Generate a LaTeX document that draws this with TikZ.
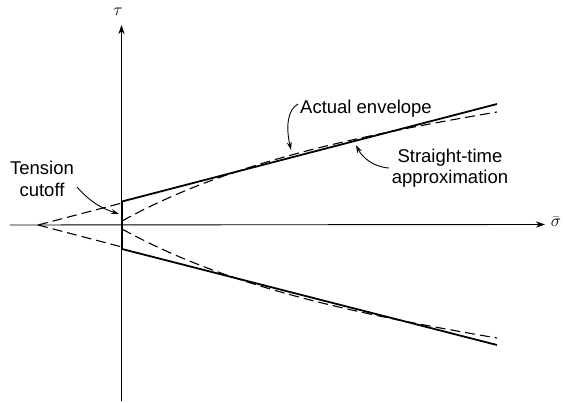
\documentclass[tikz,border=0pt]{standalone}
\usepackage{fontspec}
\setmainfont{Liberation Sans}
\usetikzlibrary{arrows.meta}
\begin{document}
\begin{tikzpicture}[x=1pt,y=-1pt,
  axis/.style={line width=0.9pt,-{Stealth[length=9pt,width=6pt]}},
  straightline/.style={line width=1.8pt,line join=miter},
  actual/.style={line width=1.1pt,dash pattern=on 10pt off 5pt},
  lbl/.style={font=\fontsize{18.5}{21.5}\selectfont,align=center,inner sep=0pt},
  mathlbl/.style={font=\fontsize{17}{17}\selectfont,inner sep=0pt},
  leader/.style={line width=0.9pt,-{Stealth[length=8pt,width=5pt]}}]
\useasboundingbox (0,0) rectangle (563,403);
% axes
\coordinate (xs) at (10,225);
\coordinate (xe) at (545,224.5);
\coordinate (ys) at (121.5,401);
\coordinate (ye) at (121.5,25);
\draw[axis] (xs) -- (xe);
\draw[axis] (ys) -- (ye);
\node[mathlbl] (tau) at (118,12) {$\tau$};
\node[mathlbl] (sig) at (556,222) {$\bar{\sigma}$};
% straight-line approximation (solid)
\coordinate (ue) at (497,104);
\coordinate (us) at (122,201.5);
\coordinate (ls) at (122,249);
\coordinate (le) at (497,345);
\draw[straightline] (ue) -- (us) -- (ls) -- (le);
% dashed extensions to the vertex
\coordinate (vx) at (38,225);
\coordinate (ut) at (122,203);
\coordinate (lt) at (122,247);
\draw[actual] (vx) -- (ut);
\draw[actual] (vx) -- (lt);
% actual (curved) envelope
\coordinate (ca) at (122,221);
\coordinate (cb) at (497,112);
\coordinate (cc) at (122,229);
\coordinate (cd) at (497,338);
\draw[actual] (ca) .. controls (222,166) and (340,138.7) .. (cb);
\draw[actual] (cc) .. controls (222,284) and (340,311.3) .. (cd);
% labels
\node[lbl] (tc) at (42,179) {Tension\\cutoff};
\node[lbl,anchor=base] (ae) at (366,114) {Actual envelope};
\node[lbl] (sa) at (450,168) {Straight-time\\approximation};
% leaders
\coordinate (tcs) at (77,187);
\coordinate (tct) at (119,214);
\draw[leader] (tcs) .. controls (92,204) and (104,209) .. (tct);
\coordinate (aes) at (298,104);
\coordinate (aet) at (291,150);
\draw[leader] (aes) .. controls (287,110) and (286,128) .. (aet);
\coordinate (sas) at (389,168);
\coordinate (sat) at (356,145);
\draw[leader] (sas) .. controls (373,167) and (362,157) .. (sat);
\end{tikzpicture}
\end{document}
